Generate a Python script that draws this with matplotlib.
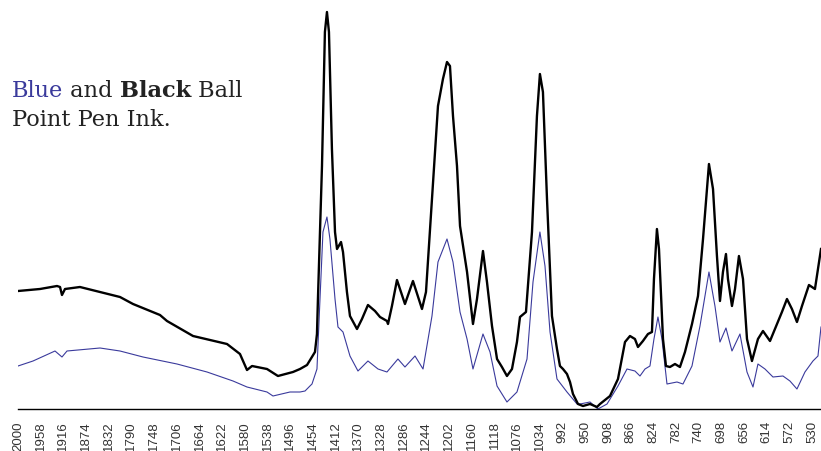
import numpy as np
import matplotlib.pyplot as plt

# FTIR spectra of two ball point pen inks (wavenumber in cm-1, absorbance in arbitrary units)
black_wn = [2000, 1959.3, 1927.8, 1922.2, 1918.6, 1913.0, 1885.3, 1848.2, 1811.2, 1787.1,
            1737.2, 1724.2, 1676.0, 1613.1, 1589.1, 1576.1, 1566.8, 1539.1, 1518.8, 1491.0,
            1478.0, 1465.0, 1450.3, 1446.6, 1444.8, 1437.3, 1431.9, 1428.1, 1424.4, 1418.9,
            1413.2, 1409.5, 1402.1, 1398.4, 1391.1, 1385.5, 1372.5, 1363.3, 1352.2, 1339.2,
            1329.9, 1317.0, 1315.1, 1307.8, 1298.5, 1283.7, 1268.9, 1252.2, 1244.8, 1233.7,
            1222.6, 1213.4, 1205.9, 1200.4, 1194.8, 1187.4, 1181.8, 1168.8, 1157.8, 1150.4,
            1139.3, 1131.9, 1122.6, 1113.3, 1104.2, 1094.9, 1085.6, 1076.4, 1070.8, 1059.7,
            1048.6, 1039.4, 1033.9, 1028.3, 1020.8, 1011.6, 1002.3, 996.8, 991.2, 983.8,
            978.2, 972.7, 963.4, 954.2, 941.2, 928.3, 922.7, 904.2, 889.4, 876.4,
            867.2, 858.0, 852.4, 843.2, 833.9, 826.5, 822.8, 817.3, 813.5, 806.1,
            800.6, 793.2, 783.9, 774.7, 765.4, 752.4, 741.3, 732.0, 721.0, 713.5,
            706.2, 700.6, 695.1, 689.5, 685.8, 678.4, 672.8, 665.5, 658.0, 650.6,
            641.4, 630.3, 621.0, 608.0, 598.8, 585.9, 576.6, 567.4, 558.1, 548.8,
            535.9, 524.8, 513.6]
black_abs = [118, 120, 123, 122, 114, 120, 122, 117, 112, 105,
             94, 88, 73, 65, 55, 39, 43, 40, 33, 37,
             40, 44, 57, 75, 110, 243, 377, 397, 377, 260,
             177, 160, 167, 157, 117, 93, 80, 90, 104, 98,
             92, 88, 85, 103, 129, 105, 128, 100, 117, 210,
             303, 330, 347, 343, 293, 243, 183, 137, 85, 110,
             158, 127, 83, 50, 42, 33, 40, 67, 92, 97,
             177, 293, 335, 317, 210, 93, 60, 43, 40, 35,
             27, 15, 5, 3, 5, 2, 5, 13, 30, 67,
             73, 70, 62, 68, 75, 77, 130, 180, 160, 70,
             43, 42, 45, 42, 57, 85, 113, 170, 245, 220,
             153, 108, 137, 155, 130, 103, 120, 153, 130, 70,
             48, 70, 78, 68, 80, 97, 110, 100, 87, 103,
             124, 120, 160]

blue_wn = [2000, 1972.2, 1931.5, 1918.6, 1909.3, 1848.2, 1811.2, 1768.6, 1705.7, 1650.1,
           1602.0, 1576.1, 1539.1, 1528.0, 1496.5, 1478.0, 1468.7, 1459.6, 1455.8, 1446.6,
           1441.0, 1435.5, 1428.1, 1422.6, 1413.2, 1407.7, 1398.4, 1385.5, 1370.7, 1352.2,
           1333.6, 1317.0, 1296.7, 1283.7, 1265.1, 1250.3, 1233.7, 1222.6, 1205.9, 1194.8,
           1181.8, 1168.8, 1157.8, 1139.3, 1126.3, 1113.3, 1094.9, 1076.4, 1057.8, 1046.7,
           1033.9, 1024.5, 1015.2, 1002.3, 983.8, 965.2, 959.7, 941.2, 926.5, 909.7,
           889.4, 872.7, 858.0, 848.7, 839.4, 830.2, 822.8, 815.4, 808.0, 798.7,
           780.2, 769.1, 752.4, 737.6, 721.0, 709.9, 700.6, 689.5, 678.4, 663.6,
           650.6, 639.5, 630.3, 617.3, 602.5, 584.0, 571.1, 558.1, 543.3, 528.5,
           519.2, 513.6]
blue_abs = [43, 48, 58, 52, 58, 61, 58, 52, 45, 37,
            28, 22, 17, 13, 17, 17, 18, 23, 25, 40,
            110, 177, 192, 170, 110, 82, 77, 53, 38, 48,
            40, 37, 50, 42, 53, 40, 93, 147, 170, 147,
            97, 70, 40, 75, 57, 23, 7, 17, 50, 127,
            177, 143, 77, 30, 17, 5, 5, 7, 0, 5,
            23, 40, 38, 33, 40, 43, 70, 92, 70, 25,
            27, 25, 43, 83, 137, 103, 67, 81, 58, 75,
            37, 22, 45, 40, 32, 33, 28, 20, 37, 48,
            53, 82]

tick_values = np.arange(2000, 529, -42)

fig = plt.figure(figsize=(8.21, 4.52), dpi=100)
ax = fig.add_axes([18 / 821, 42 / 452, 1 - 18 / 821, 410 / 452])

ax.plot(blue_wn, blue_abs, color="#3a3a9c", lw=0.8)
ax.plot(black_wn, black_abs, color="black", lw=1.7)

ax.set_xlim(2000, 513.6)
ax.set_ylim(0, 410)
ax.set_xticks(tick_values)
ax.set_xticklabels([str(v) for v in tick_values], rotation=90,
                   fontsize=9.5, family="Liberation Sans", color="#333333")
ax.tick_params(axis="x", length=0, pad=8)
ax.set_yticks([])
for side in ["left", "right", "top"]:
    ax.spines[side].set_visible(False)
ax.spines["bottom"].set_linewidth(1.0)

# title block, word by word so each word keeps its own colour/weight
fs = 16.2
serif = "DejaVu Serif"
t = fig.text(12 / 821, 1 - 97 / 452, "Blue", color="#3a3a9c", fontsize=fs,
             family=serif, va="baseline")
t = ax.annotate(" and ", xy=(1, 0), xycoords=t, va="bottom", ha="left",
                fontsize=fs, family=serif, color="#222222")
t = ax.annotate("Black", xy=(1, 0), xycoords=t, va="bottom", ha="left",
                fontsize=fs, family=serif, fontweight="bold", color="#222222")
t = ax.annotate(" Ball", xy=(1, 0), xycoords=t, va="bottom", ha="left",
                fontsize=fs, family=serif, color="#222222")
fig.text(12 / 821, 1 - 126 / 452, "Point Pen Ink.", color="#222222", fontsize=fs,
         family=serif, va="baseline")

fig.savefig("out.png", dpi=100)
